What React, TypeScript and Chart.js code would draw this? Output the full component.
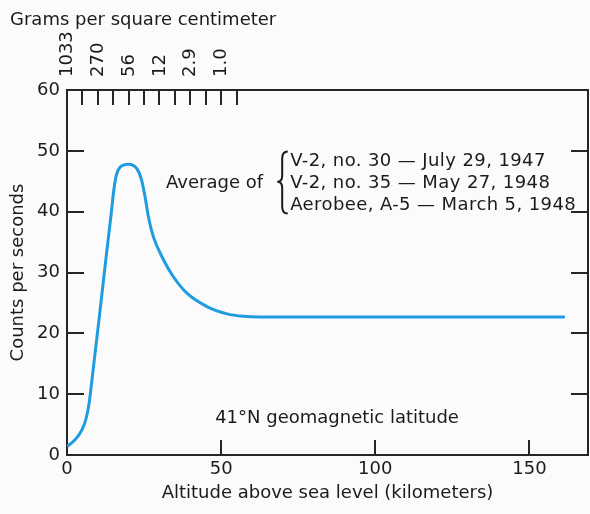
import React, { useEffect, useRef } from "react";
import { Chart, registerables } from "chart.js";

Chart.register(...registerables);

// ---- data ----
const altitudeKm = [0, 2.6, 4.8, 6.2, 7.2, 8.2, 10.5, 12.5, 14.3, 15.2, 16.0, 17.2, 19.9, 22.6, 24.2, 25.3, 26.4, 28.0, 31.3, 34.5, 38.9, 45.4, 51.9, 57.2, 62.7, 80, 100, 120, 140, 161.5];
const countsPerSecond = [1.4, 2.5, 4.1, 6.0, 8.6, 12.8, 22.8, 31.7, 39.5, 43.6, 46.0, 47.3, 47.8, 47.1, 45.2, 42.5, 39.2, 35.9, 32.1, 29.3, 26.6, 24.4, 23.2, 22.8, 22.7, 22.7, 22.7, 22.7, 22.7, 22.7];

const xTickValues = [0, 50, 100, 150];
const yTickValues = [0, 10, 20, 30, 40, 50, 60];
const gramsMajorKm = [0, 10, 20, 30, 40, 50];
const gramsLabels = ["1033", "270", "56", "12", "2.9", "1.0"];
const gramsMinorKm = [5, 15, 25, 35, 45, 55];

const topTitle = "Grams per square centimeter";
const xTitle = "Altitude above sea level (kilometers)";
const yTitle = "Counts per seconds";
const averageLabel = "Average of";
const flightLines = [
  "V-2, no. 30 \u2014 July 29, 1947",
  "V-2, no. 35 \u2014 May 27, 1948",
  "Aerobee, A-5 \u2014 March 5, 1948",
];
const latitudeLabel = "41\u00B0N geomagnetic latitude";

// ---- style ----
const FONT = "'DejaVu Sans', 'Liberation Sans', sans-serif";
const TEXT = "#1b1b1b";
const AXIS = "#262626";
const LINE = "#1f9be0";

Chart.defaults.font.family = FONT;
Chart.defaults.color = TEXT;

const annotationPlugin = {
  id: "annotations",
  afterDraw(chart: any) {
    const { ctx, chartArea, scales } = chart;
    const x = scales.x;
    const y = scales.y;
    ctx.save();
    ctx.fillStyle = TEXT;
    ctx.strokeStyle = TEXT;
    ctx.font = `18px ${FONT}`;
    ctx.textBaseline = "alphabetic";

    // top axis title
    ctx.textAlign = "left";
    ctx.fillText(topTitle, chartArea.left - 57, chartArea.top - 65);

    // "Average of" + brace + flight lines
    ctx.textAlign = "right";
    ctx.fillText(averageLabel, x.getPixelForValue(63.6), y.getPixelForValue(43.9));

    const lineY = [47.5, 43.9, 40.3];
    ctx.textAlign = "left";
    (ctx as any).letterSpacing = "0.4px";
    flightLines.forEach((t, i) => {
      ctx.fillText(t, x.getPixelForValue(72.4), y.getPixelForValue(lineY[i]));
    });
    (ctx as any).letterSpacing = "0px";

    // brace
    const xTip = x.getPixelForValue(68.2);
    const xSpine = x.getPixelForValue(69.8);
    const xEnd = x.getPixelForValue(71.6);
    const yTop = y.getPixelForValue(49.9);
    const yMid = y.getPixelForValue(44.9);
    const yBot = y.getPixelForValue(39.7);
    ctx.lineWidth = 2;
    ctx.beginPath();
    ctx.moveTo(xEnd, yTop);
    ctx.quadraticCurveTo(xSpine, yTop, xSpine, yTop + 7);
    ctx.lineTo(xSpine, yMid - 6);
    ctx.quadraticCurveTo(xSpine, yMid, xTip, yMid);
    ctx.quadraticCurveTo(xSpine, yMid, xSpine, yMid + 6);
    ctx.lineTo(xSpine, yBot - 7);
    ctx.quadraticCurveTo(xSpine, yBot, xEnd, yBot);
    ctx.stroke();

    // latitude note
    ctx.textAlign = "left";
    ctx.fillText(latitudeLabel, x.getPixelForValue(48.05), y.getPixelForValue(5.26));
    ctx.restore();
  },
};

export default function App() {
  const canvasRef = useRef<HTMLCanvasElement | null>(null);

  useEffect(() => {
    if (!canvasRef.current) return;
    const points = altitudeKm.map((k, i) => ({ x: k, y: countsPerSecond[i] }));
    const gridCommon = {
      drawOnChartArea: false,
      color: AXIS,
      lineWidth: 2,
    };
    const borderCommon = { display: true, color: AXIS, width: 2 };

    const chart = new Chart(canvasRef.current, {
      type: "line",
      data: {
        datasets: [
          {
            data: points,
            borderColor: LINE,
            borderWidth: 3,
            pointRadius: 0,
            fill: false,
            cubicInterpolationMode: "monotone",
          },
        ],
      },
      options: {
        animation: false,
        responsive: false,
        devicePixelRatio: 1,
        layout: { padding: 0 },
        plugins: {
          legend: { display: false },
          tooltip: { enabled: false },
          title: { display: false },
        },
        scales: {
          x: {
            type: "linear",
            position: "bottom",
            min: 0,
            max: 169,
            afterBuildTicks: (s: any) => {
              s.ticks = xTickValues.map((v) => ({ value: v }));
            },
            afterFit: (s: any) => {
              s.height = 59;
            },
            ticks: {
              font: { size: 18 },
              color: TEXT,
              padding: 19,
              maxRotation: 0,
              autoSkip: false,
              includeBounds: false,
              callback: (v: any) => String(v),
            },
            grid: { ...gridCommon, tickLength: -15 },
            border: borderCommon,
            title: {
              display: true,
              text: xTitle,
              font: { size: 18 },
              color: TEXT,
              padding: { top: 0, bottom: 10 },
            },
          },
          x2: {
            type: "linear",
            position: "top",
            min: 0,
            max: 169,
            afterBuildTicks: (s: any) => {
              s.ticks = [...gramsMajorKm, ...gramsMinorKm]
                .sort((a, b) => a - b)
                .map((v) => ({ value: v }));
            },
            afterFit: (s: any) => {
              s.height = 90;
            },
            ticks: {
              font: { size: 18 },
              color: TEXT,
              padding: 28,
              labelOffset: 22,
              minRotation: 90,
              maxRotation: 90,
              autoSkip: false,
              includeBounds: false,
              callback: (v: any) => {
                const i = gramsMajorKm.indexOf(Number(v));
                return i >= 0 ? gramsLabels[i] : "";
              },
            },
            grid: { ...gridCommon, tickLength: -15 },
            border: borderCommon,
          },
          y: {
            type: "linear",
            position: "left",
            min: 0,
            max: 60,
            afterBuildTicks: (s: any) => {
              s.ticks = yTickValues.map((v) => ({ value: v }));
            },
            afterFit: (s: any) => {
              s.width = 67;
            },
            ticks: {
              font: { size: 18 },
              color: TEXT,
              padding: 24,
              autoSkip: false,
              callback: (v: any) => String(v),
            },
            grid: { ...gridCommon, tickLength: -17 },
            border: borderCommon,
            title: {
              display: true,
              text: yTitle,
              font: { size: 18 },
              color: TEXT,
              padding: { top: 8, bottom: 0 },
            },
          },
          y2: {
            type: "linear",
            position: "right",
            min: 0,
            max: 60,
            afterBuildTicks: (s: any) => {
              s.ticks = yTickValues.map((v) => ({ value: v }));
            },
            afterFit: (s: any) => {
              s.width = 2;
            },
            ticks: { display: false },
            grid: { ...gridCommon, tickLength: -17 },
            border: borderCommon,
          },
        },
      },
      plugins: [annotationPlugin],
    } as any);

    return () => chart.destroy();
  }, []);

  return (
    <div
      style={{
        position: "fixed",
        left: 0,
        top: 0,
        width: 590,
        height: 514,
        background: "#fcfbfc",
      }}
    >
      <canvas ref={canvasRef} width={590} height={514} style={{ display: "block" }} />
    </div>
  );
}
